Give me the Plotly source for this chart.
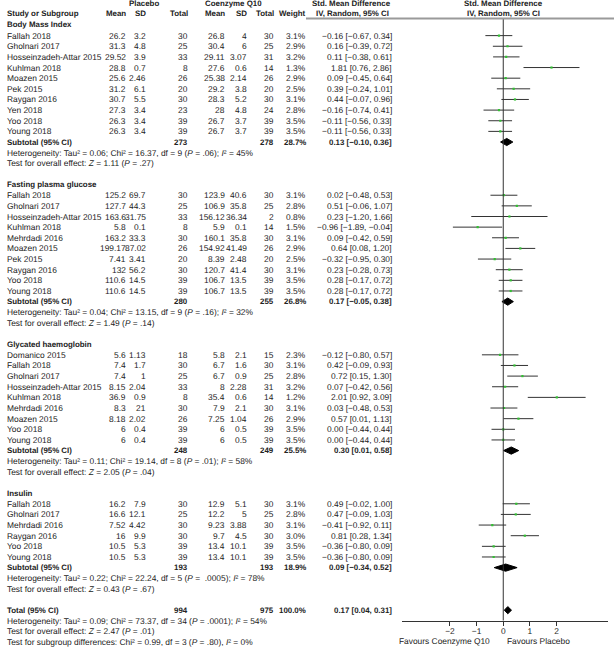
import plotly.graph_objects as go

W, H = 614, 648

# ---------------- data ----------------
bmi_studies = ["Fallah 2018", "Gholnari 2017", "Hosseinzadeh-Attar 2015", "Kuhlman 2018", "Moazen 2015",
               "Pek 2015", "Raygan 2016", "Yen 2018", "Yoo 2018", "Young 2018"]
bmi_pl_mean = ["26.2", "31.3", "29.52", "28.8", "25.6", "31.2", "30.7", "27.3", "26.3", "26.3"]
bmi_pl_sd = ["3.2", "4.8", "3.9", "0.7", "2.46", "6.1", "5.5", "3.4", "3.4", "3.4"]
bmi_pl_n = [30, 25, 33, 8, 26, 20, 30, 23, 39, 39]
bmi_q_mean = ["26.8", "30.4", "29.11", "27.6", "25.38", "29.2", "28.3", "28", "26.7", "26.7"]
bmi_q_sd = ["4", "6", "3.07", "0.6", "2.14", "3.8", "5.2", "4.8", "3.7", "3.7"]
bmi_q_n = [30, 25, 31, 14, 26, 20, 30, 24, 39, 39]
bmi_weight = [3.1, 2.9, 3.2, 1.3, 2.9, 2.5, 3.1, 2.8, 3.5, 3.5]
bmi_smd = [-0.16, 0.16, 0.11, 1.81, 0.09, 0.39, 0.44, -0.16, -0.11, -0.11]
bmi_lo = [-0.67, -0.39, -0.38, 0.76, -0.45, -0.24, -0.07, -0.74, -0.56, -0.56]
bmi_hi = [0.34, 0.72, 0.61, 2.86, 0.64, 1.01, 0.96, 0.41, 0.33, 0.33]
bmi_sub = dict(n_pl=273, n_q=278, w=28.7, smd=0.13, lo=-0.10, hi=0.36,
               het="Heterogeneity: Tau² = 0.06; Chi² = 16.37, df = 9 (<i>P</i> = .06); <i>I</i>² = 45%",
               z="Test for overall effect: <i>Z</i> = 1.11 (<i>P</i> = .27)")

fpg_studies = ["Fallah 2018", "Gholnari 2017", "Hosseinzadeh-Attar 2015", "Kuhlman 2018", "Mehrdadi 2016",
               "Moazen 2015", "Pek 2015", "Raygan 2016", "Yoo 2018", "Young 2018"]
fpg_pl_mean = ["125.2", "127.7", "163.6", "5.8", "163.2", "199.17", "7.41", "132", "110.6", "110.6"]
fpg_pl_sd = ["69.7", "44.3", "31.75", "0.1", "33.3", "87.02", "3.41", "56.2", "14.5", "14.5"]
fpg_pl_n = [30, 25, 33, 8, 30, 26, 20, 30, 39, 39]
fpg_q_mean = ["123.9", "106.9", "156.12", "5.9", "160.1", "154.92", "8.39", "120.7", "106.7", "106.7"]
fpg_q_sd = ["40.6", "35.8", "36.34", "0.1", "35.8", "41.49", "2.48", "41.4", "13.5", "13.5"]
fpg_q_n = [30, 25, 2, 14, 30, 26, 20, 30, 39, 39]
fpg_weight = [3.1, 2.8, 0.8, 1.5, 3.1, 2.9, 2.5, 3.1, 3.5, 3.5]
fpg_smd = [0.02, 0.51, 0.23, -0.96, 0.09, 0.64, -0.32, 0.23, 0.28, 0.28]
fpg_lo = [-0.48, -0.06, -1.20, -1.89, -0.42, 0.08, -0.95, -0.28, -0.17, -0.17]
fpg_hi = [0.53, 1.07, 1.66, -0.04, 0.59, 1.20, 0.30, 0.73, 0.72, 0.72]
fpg_sub = dict(n_pl=280, n_q=255, w=26.8, smd=0.17, lo=-0.05, hi=0.38,
               het="Heterogeneity: Tau² = 0.04; Chi² = 13.15, df = 9 (<i>P</i> = .16); <i>I</i>² = 32%",
               z="Test for overall effect: <i>Z</i> = 1.49 (<i>P</i> = .14)")

hba_studies = ["Domanico 2015", "Fallah 2018", "Gholnari 2017", "Hosseinzadeh-Attar 2015", "Kuhlman 2018",
               "Mehrdadi 2016", "Moazen 2015", "Yoo 2018", "Young 2018"]
hba_pl_mean = ["5.6", "7.4", "7.4", "8.15", "36.9", "8.3", "8.18", "6", "6"]
hba_pl_sd = ["1.13", "1.7", "1", "2.04", "0.9", "21", "2.02", "0.4", "0.4"]
hba_pl_n = [18, 30, 25, 33, 8, 30, 26, 39, 39]
hba_q_mean = ["5.8", "6.7", "6.7", "8", "35.4", "7.9", "7.25", "6", "6"]
hba_q_sd = ["2.1", "1.6", "0.9", "2.28", "0.6", "2.1", "1.04", "0.5", "0.5"]
hba_q_n = [15, 30, 25, 31, 14, 30, 26, 39, 39]
hba_weight = [2.3, 3.1, 2.8, 3.2, 1.2, 3.1, 2.9, 3.5, 3.5]
hba_smd = [-0.12, 0.42, 0.72, 0.07, 2.01, 0.03, 0.57, 0.00, 0.00]
hba_lo = [-0.80, -0.09, 0.15, -0.42, 0.92, -0.48, 0.01, -0.44, -0.44]
hba_hi = [0.57, 0.93, 1.30, 0.56, 3.09, 0.53, 1.13, 0.44, 0.44]
hba_sub = dict(n_pl=248, n_q=249, w=25.5, smd=0.30, lo=0.01, hi=0.58,
               het="Heterogeneity: Tau² = 0.11; Chi² = 19.14, df = 8 (<i>P</i> = .01); <i>I</i>² = 58%",
               z="Test for overall effect: <i>Z</i> = 2.05 (<i>P</i> = .04)")

ins_studies = ["Fallah 2018", "Gholnari 2017", "Mehrdadi 2016", "Raygan 2016", "Yoo 2018", "Young 2018"]
ins_pl_mean = ["16.2", "16.6", "7.52", "16", "10.5", "10.5"]
ins_pl_sd = ["7.9", "12.1", "4.42", "9.9", "5.3", "5.3"]
ins_pl_n = [30, 25, 30, 30, 39, 39]
ins_q_mean = ["12.9", "12.2", "9.23", "9.7", "13.4", "13.4"]
ins_q_sd = ["5.1", "5", "3.88", "4.5", "10.1", "10.1"]
ins_q_n = [30, 25, 30, 30, 39, 39]
ins_weight = [3.1, 2.8, 3.1, 3.0, 3.5, 3.5]
ins_smd = [0.49, 0.47, -0.41, 0.81, -0.36, -0.36]
ins_lo = [-0.02, -0.09, -0.92, 0.28, -0.80, -0.80]
ins_hi = [1.00, 1.03, 0.11, 1.34, 0.09, 0.09]
ins_sub = dict(n_pl=193, n_q=193, w=18.9, smd=0.09, lo=-0.34, hi=0.52,
               het="Heterogeneity: Tau² = 0.22; Chi² = 22.24, df = 5 (<i>P</i> =  .0005); <i>I</i>² = 78%",
               z="Test for overall effect: <i>Z</i> = 0.43 (<i>P</i> = .67)")

total = dict(n_pl=994, n_q=975, w=100.0, smd=0.17, lo=0.04, hi=0.31)
total_het = "Heterogeneity: Tau² = 0.09; Chi² = 73.37, df = 34 (<i>P</i> = .0001); <i>I</i>² = 54%"
total_z = "Test for overall effect: <i>Z</i> = 2.47 (<i>P</i> = .01)"
subgroup_test = "Test for subgroup differences: Chi² = 0.99, df = 3 (<i>P</i> = .80), <i>I</i>² = 0%"

tick_vals = [-2, -1, 0, 1, 2]
tick_text = ["−2", "−1", "0", "1", "2"]

groups = [
    ("Body Mass Index", bmi_studies, bmi_pl_mean, bmi_pl_sd, bmi_pl_n, bmi_q_mean, bmi_q_sd, bmi_q_n,
     bmi_weight, bmi_smd, bmi_lo, bmi_hi, bmi_sub),
    ("Fasting plasma glucose", fpg_studies, fpg_pl_mean, fpg_pl_sd, fpg_pl_n, fpg_q_mean, fpg_q_sd, fpg_q_n,
     fpg_weight, fpg_smd, fpg_lo, fpg_hi, fpg_sub),
    ("Glycated haemoglobin", hba_studies, hba_pl_mean, hba_pl_sd, hba_pl_n, hba_q_mean, hba_q_sd, hba_q_n,
     hba_weight, hba_smd, hba_lo, hba_hi, hba_sub),
    ("Insulin", ins_studies, ins_pl_mean, ins_pl_sd, ins_pl_n, ins_q_mean, ins_q_sd, ins_q_n,
     ins_weight, ins_smd, ins_lo, ins_hi, ins_sub),
]

# ---------------- layout helpers ----------------
ROW0, PITCH = 3.7, 10.64
def ry(r):
    return ROW0 + r * PITCH

FONT = "Liberation Sans, Arial, sans-serif"
TXT = "#222222"
FS = 8.4
FSB = 7.9
COLX = dict(pm=127.5, psd=148, pn=190, qm=227, qsd=248.5, qn=276, w=307.5, ci=394)

def fmt(v):
    s = f"{v:.2f}"
    return s.replace("-", "−")

def ci_text(s, l, h):
    return f"{fmt(s)} [{fmt(l)}, {fmt(h)}]"

ann = []
def txt(x, y, s, anchor="left", bold=False, size=None):
    ann.append(dict(x=x / W, y=y, xref="paper", yref="y", text=(f"<b>{s}</b>" if bold else s),
                    showarrow=False, xanchor=anchor, yanchor="middle",
                    font=dict(family=FONT, size=size or (FSB if bold else FS), color=TXT)))

fig = go.Figure()

# headers
HY0, HY1 = 3.5, 13.2
txt(144, HY0, "Placebo", "center", True)
txt(233, HY0, "Coenzyme Q10", "center", True)
txt(351, HY0, "Std. Mean Difference", "center", True)
txt(503.3, HY0, "Std. Mean Difference", "center", True)
txt(5, HY1, "Study or Subgroup", "left", True)
for key, lab in [("pm", "Mean"), ("psd", "SD"), ("pn", "Total"), ("qm", "Mean"), ("qsd", "SD"),
                 ("qn", "Total"), ("w", "Weight")]:
    txt(COLX[key], HY1, lab, "right", True)
txt(352, HY1, "IV, Random, 95% CI", "center", True)
txt(503.3, HY1, "IV, Random, 95% CI", "center", True)

row = 2
for (gname, st, pm, psd, pn, qm, qsd, qn, wt, smd, lo, hi, sub) in groups:
    txt(5, ry(row), gname, "left", True)
    lx, ly, mx, my = [], [], [], []
    for i in range(len(st)):
        r = row + 1 + i
        y = ry(r)
        txt(5, y, st[i])
        txt(COLX["pm"], y, pm[i], "right")
        txt(COLX["psd"], y, psd[i], "right")
        txt(COLX["pn"], y, str(pn[i]), "right")
        txt(COLX["qm"], y, qm[i], "right")
        txt(COLX["qsd"], y, qsd[i], "right")
        txt(COLX["qn"], y, str(qn[i]), "right")
        txt(COLX["w"], y, f"{wt[i]:.1f}%", "right")
        txt(COLX["ci"], y, ci_text(smd[i], lo[i], hi[i]), "right")
        lx += [lo[i], hi[i], None]
        ly += [y, y, None]
        mx.append(smd[i]); my.append(y)
    fig.add_trace(go.Scatter(x=lx, y=ly, mode="lines", xaxis="x2", yaxis="y",
                             line=dict(color="#333333", width=1), hoverinfo="skip", showlegend=False))
    fig.add_trace(go.Scatter(x=mx, y=my, mode="markers", xaxis="x2", yaxis="y",
                             marker=dict(symbol="square", size=2.2, color="#33c033", line=dict(width=0)),
                             showlegend=False))
    rs = row + len(st) + 1
    ys = ry(rs)
    txt(5, ys, "Subtotal (95% CI)", "left", True)
    txt(COLX["pn"], ys, str(sub["n_pl"]), "right", True)
    txt(COLX["qn"], ys, str(sub["n_q"]), "right", True)
    txt(COLX["w"], ys, f"{sub['w']:.1f}%", "right", True)
    txt(COLX["ci"], ys, ci_text(sub["smd"], sub["lo"], sub["hi"]), "right", True)
    fig.add_trace(go.Scatter(x=[sub["lo"], sub["smd"], sub["hi"], sub["smd"], sub["lo"]],
                             y=[ys, ys - 3.6, ys, ys + 3.6, ys], mode="lines", fill="toself",
                             fillcolor="#000000", line=dict(color="#000000", width=1),
                             xaxis="x2", yaxis="y", hoverinfo="skip", showlegend=False))
    txt(5, ry(rs + 1), sub["het"])
    txt(5, ry(rs + 2), sub["z"])
    row = rs + 4

# total
yt = ry(row)
txt(5, yt, "Total (95% CI)", "left", True)
txt(COLX["pn"], yt, str(total["n_pl"]), "right", True)
txt(COLX["qn"], yt, str(total["n_q"]), "right", True)
txt(COLX["w"], yt, f"{total['w']:.1f}%", "right", True)
txt(COLX["ci"], yt, ci_text(total["smd"], total["lo"], total["hi"]), "right", True)
fig.add_trace(go.Scatter(x=[total["lo"], total["smd"], total["hi"], total["smd"], total["lo"]],
                         y=[yt, yt - 3.6, yt, yt + 3.6, yt], mode="lines", fill="toself",
                         fillcolor="#000000", line=dict(color="#000000", width=1),
                         xaxis="x2", yaxis="y", hoverinfo="skip", showlegend=False))
txt(5, ry(row + 1), total_het)
txt(5, ry(row + 2), total_z)
txt(5, ry(row + 3), subgroup_test)

AXIS_Y = 620.5
# zero line
fig.add_trace(go.Scatter(x=[0, 0], y=[18.5, AXIS_Y], mode="lines", xaxis="x2", yaxis="y",
                         line=dict(color="#333333", width=1), hoverinfo="skip", showlegend=False))

# favours labels
txt(491.7, 640.5, "Favours Coenzyme Q10", "right")
txt(505, 640.5, "Favours Placebo", "left")

shapes = [dict(type="line", xref="paper", yref="y", x0=306 / W, x1=1, y0=18.5, y1=18.5,
               line=dict(color="#9a9a9a", width=2))]

fig.update_layout(
    width=W, height=H, margin=dict(l=0, r=0, t=0, b=0),
    paper_bgcolor="white", plot_bgcolor="rgba(0,0,0,0)",
    showlegend=False, annotations=ann, shapes=shapes,
    xaxis=dict(domain=[0, 1], range=[0, W], visible=False, fixedrange=True),
    yaxis=dict(domain=[0, 1], range=[H, 0], visible=False, fixedrange=True),
    xaxis2=dict(domain=[401.7 / W, 608 / W], range=[-3.81, 3.93], anchor="free",
                position=(H - AXIS_Y) / H, showline=True, linecolor="#333333", linewidth=1,
                ticks="outside", ticklen=4, tickcolor="#333333", tickwidth=1,
                ticklabelstandoff=-2,
                tickvals=tick_vals, ticktext=tick_text, showgrid=False, zeroline=False,
                tickfont=dict(family=FONT, size=FS, color=TXT), fixedrange=True),
)

post = ("document.body.style.margin='0';document.body.style.overflow='hidden';"
        "var st=document.createElement('style');"
        "st.textContent='svg text{text-rendering:geometricPrecision;}';"
        "document.head.appendChild(st);")
fig.write_html("out.html", config={"displayModeBar": False}, post_script=post)
